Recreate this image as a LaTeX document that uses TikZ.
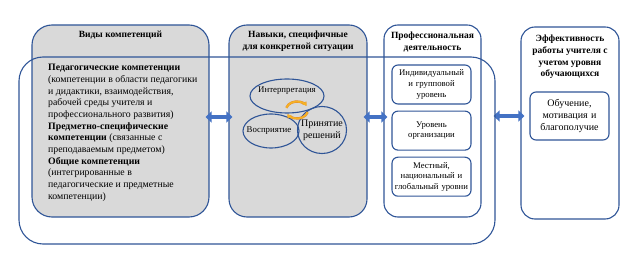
\documentclass[tikz,border=0pt]{standalone}
\usepackage{fontspec}
\setmainfont{Liberation Serif}
\usetikzlibrary{shapes.geometric,arrows.meta,positioning,calc}

\definecolor{frameblue}{HTML}{2F5597}
\definecolor{arrowblue}{HTML}{4472C4}
\definecolor{boxgray}{HTML}{D9D9D9}
\definecolor{cycorange}{HTML}{F5B324}
\definecolor{cycedge}{HTML}{E8892B}

\begin{document}
\begin{tikzpicture}[
    x=1pt, y=-1pt,
    node distance=6pt,
    font=\fontsize{9.8}{11.7}\selectfont,
    panel/.style={
        rectangle, draw=frameblue, line width=1.1pt,
        rounded corners=20pt, inner sep=0pt,
        minimum height=192pt
    },
    graypanel/.style={panel, fill=boxgray},
    level/.style={
        rectangle, draw=frameblue, line width=1.1pt, rounded corners=6pt,
        minimum width=79pt, minimum height=39pt,
        text width=77pt, align=center, inner sep=0pt,
        font=\fontsize{8.7}{10.6}\selectfont
    },
    title/.style={
        font=\fontsize{9.5}{11.7}\selectfont\bfseries,
        align=center, inner sep=1pt, anchor=north
    },
    skill/.style={ellipse, draw=frameblue, line width=1.1pt, inner sep=0pt},
    skilltext/.style={align=center, font=\fontsize{8.8}{11}\selectfont},
    link/.style={
        line width=4.5pt, draw=arrowblue,
        {Triangle[length=6pt,width=11pt]}-{Triangle[length=6pt,width=11pt]},
        shorten <=-4pt, shorten >=-4pt
    },
    turn/.style={
        line width=1.6pt, draw=cycorange,
        preaction={draw=cycedge, line width=2.4pt},
        -{Stealth[length=4pt,width=5pt]}
    }
]
\useasboundingbox (0,0) rectangle (636,264);

    % Main panels
    \node [graypanel, minimum width=177pt] (kinds) at (120.5,121) {};
    \node [graypanel, minimum width=138pt, rounded corners=18pt] (skills) at (298,121) {};
    \node [panel, minimum width=97pt, rounded corners=14pt] (practice) at (432.5,121) {};
    \node [panel, minimum width=98pt, rounded corners=14pt] (impact) at (570,123) {};

    % Titles
    \node [title, below=5.5pt of kinds.north, anchor=north] (kindsT) {Виды компетенций};
    \node [title, below=5.5pt of skills.north, anchor=north] (skillsT) {Навыки, специфичные\\для конкретной ситуации};
    \node [title, below=6.5pt of practice.north, anchor=north] (practiceT) {Профессиональная\\деятельность};
    \node [title, below=7.5pt of impact.north, anchor=north] (impactT) {Эффективность\\работы учителя с\\учетом уровня\\обучающихся};

    % Competence list
    \node [anchor=north west, align=left, inner sep=0pt] (kindsB) at (48,64) {%
        \textbf{Педагогические компетенции}\\
        (компетенции в области педагогики\\
        и дидактики, взаимодействия,\\
        рабочей среды учителя и\\
        профессионального развития)\\
        \textbf{Предметно-специфические}\\
        \textbf{компетенции} (связанные с\\
        преподаваемым предметом)\\
        \textbf{Общие компетенции}\\
        (интегрированные в\\
        педагогические и предметные\\
        компетенции)};

    % Situation skills
    \node [skill, minimum width=74pt, minimum height=34pt,
           label={[skilltext, yshift=5pt]center:Интерпретация}] (interp) at (287,96) {};
    \node [skill, minimum width=56pt, minimum height=34pt,
           label={[skilltext, xshift=-2pt]center:Восприятие}] (percept) at (271,131) {};
    \node [skill, minimum width=49pt, minimum height=47pt,
           label={[skilltext, font=\fontsize{10}{12}\selectfont]center:Принятие\\решений}] (decide) at (322,130) {};
    \coordinate (loop) at (297,110);
    \draw [turn] ([shift={(165:11pt and 8.5pt)}]loop) arc [start angle=165, end angle=30, x radius=11pt, y radius=8.5pt];
    \draw [turn] ([shift={(-15:11pt and 8.5pt)}]loop) arc [start angle=-15, end angle=-150, x radius=11pt, y radius=8.5pt];

    % Levels of practice
    \node [level] (individual) at (431.5,84.5) {Индивидуальный\\и групповой\\уровень};
    \node [level, below=of individual] (school) {Уровень\\организации};
    \node [level, below=of school] (system) {Местный,\\национальный и\\глобальный уровни};

    % Outcome
    \node [level, minimum height=48pt, font=\fontsize{10}{11.6}\selectfont] (outcome) at (569.5,116) {Обучение,\\мотивация и\\благополучие};

    % Arrows
    \draw [link] ([yshift=4pt]kinds.east) -- ([yshift=4pt]skills.west);
    \draw [link] ([yshift=4pt]skills.east) -- ([yshift=4pt]practice.west);
    \coordinate (impactIn) at ([yshift=5pt]practice.east -| impact.west);
    \draw [link, shorten <=12pt] ([yshift=5pt]practice.east) -- (impactIn);

    % Outer frame
    \node [panel, minimum width=476pt, minimum height=187pt, rounded corners=24pt] (frame) at (257,150.5) {};

\end{tikzpicture}
\end{document}
